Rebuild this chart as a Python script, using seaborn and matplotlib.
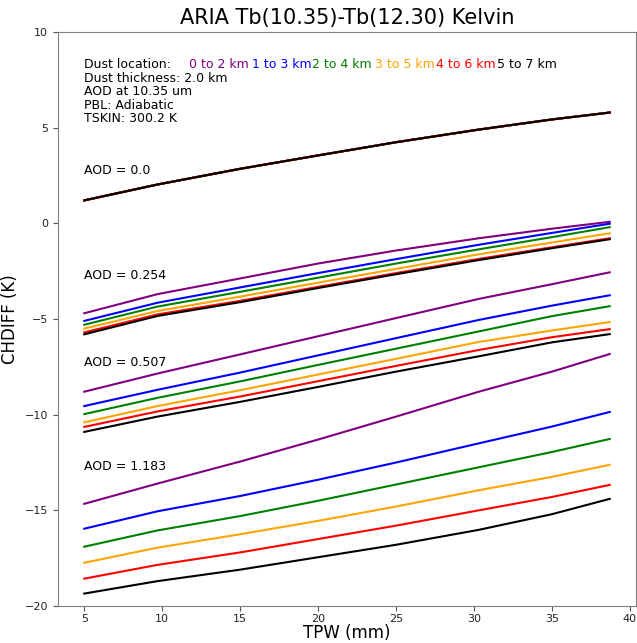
import pandas as pd
import matplotlib
matplotlib.use("Agg")
import matplotlib.pyplot as plt
import seaborn as sns

# TPW grid (mm)
tpw = [5, 9.7, 15, 20, 25, 30.3, 35, 38.7]

locations = ['0 to 2 km', '1 to 3 km', '2 to 4 km', '3 to 5 km', '4 to 6 km', '5 to 7 km']
loc_colors = ['purple', 'blue', 'green', 'orange', 'red', 'black']
aod_labels = ['0.0', '0.254', '0.507', '1.183']

# CHDIFF (K) per AOD, one list per dust location
aod_0 = [1.2, 2.03, 2.85, 3.55, 4.24, 4.9, 5.43, 5.79]

aod_0254 = [
    [-4.7, -3.7, -2.88, -2.1, -1.42, -0.78, -0.28, 0.08],
    [-5.1, -4.15, -3.35, -2.6, -1.87, -1.12, -0.5, -0.02],
    [-5.3, -4.35, -3.58, -2.84, -2.1, -1.36, -0.72, -0.2],
    [-5.5, -4.58, -3.83, -3.1, -2.38, -1.62, -1.0, -0.52],
    [-5.7, -4.76, -4.05, -3.32, -2.6, -1.86, -1.25, -0.78],
    [-5.8, -4.84, -4.12, -3.38, -2.66, -1.92, -1.3, -0.83],
]
aod_0507 = [
    [-8.8, -7.85, -6.85, -5.9, -4.95, -3.95, -3.18, -2.56],
    [-9.55, -8.7, -7.8, -6.9, -6.0, -5.05, -4.3, -3.76],
    [-9.97, -9.12, -8.26, -7.4, -6.55, -5.65, -4.85, -4.33],
    [-10.4, -9.55, -8.72, -7.9, -7.08, -6.2, -5.6, -5.16],
    [-10.64, -9.83, -9.05, -8.25, -7.45, -6.62, -5.95, -5.53],
    [-10.9, -10.1, -9.33, -8.55, -7.75, -6.95, -6.22, -5.79],
]
aod_1183 = [
    [-14.66, -13.6, -12.45, -11.3, -10.1, -8.8, -7.75, -6.83],
    [-15.96, -15.05, -14.25, -13.4, -12.5, -11.5, -10.62, -9.86],
    [-16.9, -16.05, -15.3, -14.5, -13.65, -12.75, -11.95, -11.27],
    [-17.74, -16.95, -16.25, -15.55, -14.8, -13.95, -13.25, -12.62],
    [-18.57, -17.85, -17.2, -16.5, -15.8, -15.0, -14.3, -13.67],
    [-19.35, -18.7, -18.1, -17.45, -16.8, -16.02, -15.2, -14.4],
]

groups = [[aod_0] * 6, aod_0254, aod_0507, aod_1183]

rows = []
for aod, grp in zip(aod_labels, groups):
    for loc, vals in zip(locations, grp):
        for x, y in zip(tpw, vals):
            rows.append({'aod': aod, 'loc': loc, 'TPW': x, 'CHDIFF': y})
df = pd.DataFrame(rows)

fig = plt.figure(figsize=(6.37, 6.43), dpi=100)
ax = fig.add_axes([58 / 637, 37 / 643, 578 / 637, 574 / 643])

for aod in aod_labels:
    sns.lineplot(data=df[df['aod'] == aod], x='TPW', y='CHDIFF', hue='loc',
                 hue_order=locations, palette=loc_colors, linewidth=1.5,
                 legend=False, ax=ax)

ax.set_ylim(-20, 10)
ax.set_xlabel('TPW (mm)', fontsize=12, labelpad=0)
ax.set_ylabel('CHDIFF (K)', fontsize=12)
ax.set_title('ARIA Tb(10.35)-Tb(12.30) Kelvin', fontsize=15)
ax.tick_params(labelsize=8, colors='#555555', labelcolor='#222222')
ax.tick_params(axis='x', pad=2)
for s in ax.spines.values():
    s.set_color('#808080')

# annotations
ax.text(5, 8.3, 'Dust location:', fontsize=9, va='center')
loc_x = [11.73, 15.75, 19.6, 23.65, 27.55, 31.5]
for lx, loc, c in zip(loc_x, locations, loc_colors):
    ax.text(lx, 8.3, loc, color=c, fontsize=9, va='center')
info = ['Dust thickness: 2.0 km', 'AOD at 10.35 um', 'PBL: Adiabatic', 'TSKIN: 300.2 K']
for i, t in enumerate(info):
    ax.text(5, 8.3 - 0.71 * (i + 1), t, fontsize=9, va='center')

aod_y = [2.76, -2.71, -7.25, -12.73]
for a, y in zip(aod_labels, aod_y):
    ax.text(5, y, 'AOD = ' + a, fontsize=9, va='center')

fig.savefig('out.png', dpi=100)
